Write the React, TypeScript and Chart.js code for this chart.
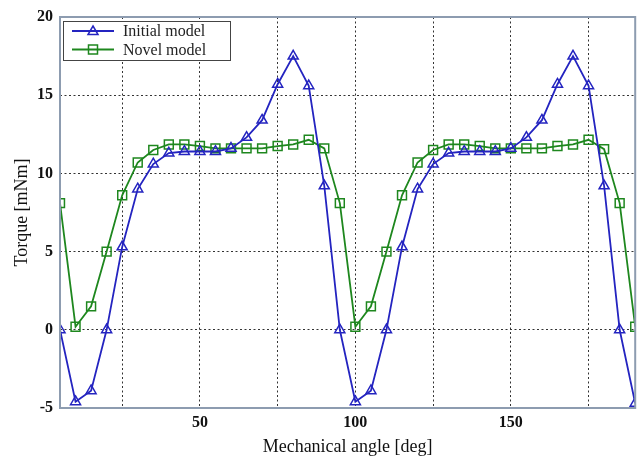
import React, { useEffect, useRef } from 'react';
import { Chart, registerables } from 'chart.js';

Chart.register(...registerables);

const angles = [5, 10, 15, 20, 25, 30, 35, 40, 45, 50, 55, 60, 65, 70, 75, 80, 85, 90, 95, 100, 105, 110, 115, 120, 125, 130, 135, 140, 145, 150, 155, 160, 165, 170, 175, 180, 185, 190];
const initialModel = [0, -4.6, -3.9, 0, 5.3, 9.0, 10.6, 11.3, 11.4, 11.4, 11.4, 11.6, 12.3, 13.4, 15.7, 17.5, 15.6, 9.2, 0, -4.6, -3.9, 0, 5.3, 9.0, 10.6, 11.3, 11.4, 11.4, 11.4, 11.6, 12.3, 13.4, 15.7, 17.5, 15.6, 9.2, 0, -4.7];
const novelModel = [8.1, 0.2, 1.5, 5.0, 8.6, 10.7, 11.5, 11.85, 11.85, 11.75, 11.6, 11.6, 11.6, 11.6, 11.75, 11.85, 12.15, 11.6, 8.1, 0.2, 1.5, 5.0, 8.6, 10.7, 11.5, 11.85, 11.85, 11.75, 11.6, 11.6, 11.6, 11.6, 11.75, 11.85, 12.15, 11.55, 8.1, 0.2];
const xGridTicks = [25, 50, 75, 100, 125, 150, 175];
const xLabeledTicks = [50, 100, 150];
const seriesNames = ['Initial model', 'Novel model'];
const xTitle = 'Mechanical angle [deg]';
const yTitle = 'Torque [mNm]';

const BLUE = '#2424c0';
const GREEN = '#1e871e';
const FRAME = '#8d9cb0';
const SERIF = '"Liberation Serif", "Times New Roman", serif';

export default function App() {
  const ref = useRef<HTMLCanvasElement>(null);

  useEffect(() => {
    document.body.style.margin = '0';
    const canvas = ref.current;
    if (!canvas) return;

    const framePlugin = {
      id: 'frame',
      afterDatasetsDraw(chart: any) {
        const { ctx, chartArea } = chart;
        const { left, top, right, bottom } = chartArea;
        ctx.save();
        ctx.strokeStyle = FRAME;
        ctx.lineWidth = 2;
        ctx.strokeRect(left, top, right - left, bottom - top);
        ctx.restore();
      },
    };

    const legendPlugin = {
      id: 'legendBox',
      afterDraw(chart: any) {
        const { ctx } = chart;
        ctx.save();
        ctx.fillStyle = '#ffffff';
        ctx.fillRect(63.5, 21.5, 167, 39);
        ctx.strokeStyle = '#444';
        ctx.lineWidth = 1;
        ctx.strokeRect(63.5, 21.5, 167, 39);
        const rows = [
          { y: 31, color: BLUE, name: seriesNames[0], marker: 'tri' },
          { y: 49.5, color: GREEN, name: seriesNames[1], marker: 'sq' },
        ];
        for (const r of rows) {
          ctx.strokeStyle = r.color;
          ctx.lineWidth = 1.8;
          ctx.beginPath();
          ctx.moveTo(72, r.y);
          ctx.lineTo(114, r.y);
          ctx.stroke();
          ctx.lineWidth = 1.5;
          ctx.beginPath();
          if (r.marker === 'tri') {
            ctx.moveTo(93, r.y - 5);
            ctx.lineTo(98, r.y + 3.5);
            ctx.lineTo(88, r.y + 3.5);
            ctx.closePath();
          } else {
            ctx.rect(88.5, r.y - 4.5, 9, 9);
          }
          ctx.stroke();
          ctx.fillStyle = '#222';
          ctx.font = `16px ${SERIF}`;
          ctx.textBaseline = 'middle';
          ctx.textAlign = 'left';
          ctx.fillText(r.name, 123, r.y + 1);
        }
        ctx.restore();
      },
    };

    const chart = new Chart(canvas, {
      type: 'line',
      data: {
        datasets: [
          {
            label: seriesNames[0],
            data: angles.map((a, i) => ({ x: a, y: initialModel[i] })),
            borderColor: BLUE,
            borderWidth: 1.8,
            pointStyle: 'triangle',
            pointRadius: 5.8,
            pointBorderWidth: 1.5,
            pointBorderColor: BLUE,
            pointBackgroundColor: 'rgba(255,255,255,0)',
            fill: false,
            tension: 0,
            clip: 0,
          },
          {
            label: seriesNames[1],
            data: angles.map((a, i) => ({ x: a, y: novelModel[i] })),
            borderColor: GREEN,
            borderWidth: 1.8,
            pointStyle: 'rect',
            pointRadius: 6.3,
            pointBorderWidth: 1.5,
            pointBorderColor: GREEN,
            pointBackgroundColor: 'rgba(255,255,255,0)',
            fill: false,
            tension: 0,
            clip: 0,
          },
        ],
      },
      options: {
        responsive: false,
        animation: false,
        devicePixelRatio: 1,
        layout: { padding: { top: 17, right: 5, left: 0, bottom: 0 } },
        plugins: { legend: { display: false }, tooltip: { enabled: false } },
        scales: {
          x: {
            type: 'linear',
            min: 5,
            max: 190,
            afterBuildTicks: (scale: any) => {
              scale.ticks = xGridTicks.map((v) => ({ value: v }));
            },
            afterFit: (scale: any) => {
              scale.height = 50;
            },
            ticks: {
              autoSkip: false,
              maxRotation: 0,
              padding: 5,
              color: '#111',
              font: { family: SERIF, size: 16, weight: 'bold' },
              callback: (value: any) => (xLabeledTicks.includes(Number(value)) ? String(value) : ''),
            },
            grid: { color: '#333', lineWidth: 1, drawTicks: false },
            border: { display: false, dash: [2, 2.5] },
            title: {
              display: true,
              text: xTitle,
              color: '#111',
              font: { family: SERIF, size: 18, weight: 'normal' },
              padding: { top: 0, bottom: 0 },
            },
          },
          y: {
            type: 'linear',
            min: -5,
            max: 20,
            afterFit: (scale: any) => {
              scale.width = 60;
            },
            ticks: {
              stepSize: 5,
              padding: 7,
              color: '#111',
              font: { family: SERIF, size: 16, weight: 'bold' },
            },
            grid: { color: '#333', lineWidth: 1, drawTicks: false },
            border: { display: false, dash: [2, 2.5] },
            title: {
              display: true,
              text: yTitle,
              color: '#111',
              font: { family: SERIF, size: 18, weight: 'normal' },
              padding: { top: 11, bottom: 0 },
            },
          },
        },
      },
      plugins: [framePlugin, legendPlugin],
    } as any);

    return () => chart.destroy();
  }, []);

  return (
    <div style={{ position: 'absolute', left: 0, top: 0, width: 643, height: 458 }}>
      <canvas ref={ref} width={643} height={458} style={{ display: 'block', width: 643, height: 458 }} />
    </div>
  );
}
